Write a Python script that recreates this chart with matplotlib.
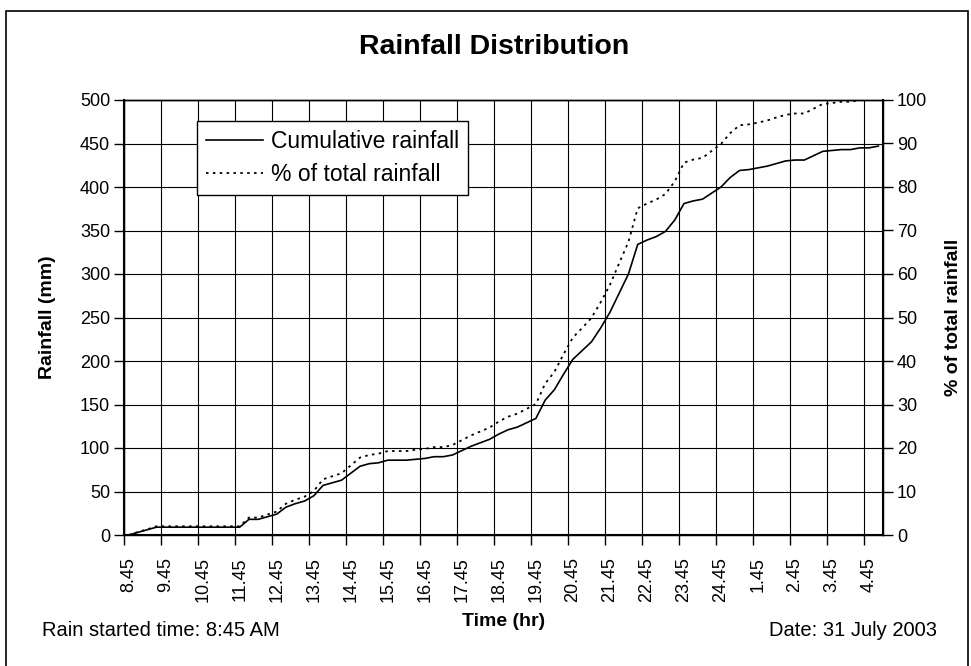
import numpy as np
import matplotlib
matplotlib.use('Agg')
import matplotlib.pyplot as plt
import matplotlib.ticker as ticker
from matplotlib.patches import Rectangle

plt.rc('font', family=['Liberation Sans', 'DejaVu Sans'])

# ------------- data (15 min steps from 8:45) -------------
cum_rain = [0, 3, 6, 9, 9, 9, 9, 9, 9, 9, 9, 9, 9, 18, 18, 21, 24, 32, 36, 39,
            45, 57, 60, 63, 71, 79, 82, 83, 86, 86, 86, 87, 88, 90, 90, 92, 97, 102, 106, 110,
            116, 121, 124, 129, 134, 155, 167, 185, 202, 212, 222, 238, 256, 278, 300, 334, 339, 343, 349, 362,
            381, 384, 386, 393, 400, 411, 419, 420, 422, 424, 427, 430, 431, 431, 436, 441, 442, 443, 443, 445,
            445, 447]

pct_rain = [0, 0.7, 1.3, 2.0, 2.0, 2.0, 2.0, 2.0, 2.0, 2.0, 2.0, 2.0, 2.0, 4.0, 4.0, 4.7, 5.4, 7.2, 8.1, 8.8,
            10.1, 12.8, 13.5, 14.2, 16.0, 17.8, 18.4, 18.7, 19.3, 19.3, 19.3, 19.6, 19.8, 20.2, 20.2, 20.7, 21.8, 22.9, 23.8, 24.7,
            26.1, 27.2, 27.9, 29.0, 30.1, 34.8, 37.5, 41.6, 45.4, 47.6, 49.9, 53.5, 57.5, 62.5, 67.4, 75.1, 76.2, 77.1, 78.4, 81.3,
            85.6, 86.3, 86.7, 88.3, 89.9, 92.4, 94.2, 94.4, 94.8, 95.3, 96.0, 96.6, 96.9, 96.9, 98.0, 99.1, 99.3, 99.6, 99.6, 100.0]

time_labels = ['8.45', '9.45', '10.45', '11.45', '12.45', '13.45', '14.45', '15.45',
               '16.45', '17.45', '18.45', '19.45', '20.45', '21.45', '22.45', '23.45',
               '24.45', '1.45', '2.45', '3.45', '4.45']

n_cat = len(cum_rain)
x_cum = np.arange(len(cum_rain)) + 0.5
x_pct = np.arange(len(pct_rain)) + 0.5

fig = plt.figure(figsize=(9.71, 6.66), dpi=100)
ax = fig.add_axes([124/971, 131/666, 759/971, 435/666])
ax2 = ax.twinx()

l1, = ax.plot(x_cum, cum_rain, color='black', linewidth=1.2, label='Cumulative rainfall')
l2, = ax2.plot(x_pct, pct_rain, color='black', linewidth=1.3, linestyle=(0, (1.4, 2.4)),
               label='% of total rainfall')

ax.set_xlim(0, n_cat)
ax.set_ylim(0, 500)
ax2.set_ylim(0, 100)

# grid at every 4th category boundary, labels centred on the category
ax.xaxis.set_major_locator(ticker.FixedLocator(np.arange(0, n_cat, 4)))
ax.xaxis.set_major_formatter(ticker.NullFormatter())
ax.xaxis.set_minor_locator(ticker.FixedLocator(np.arange(0, n_cat, 4) + 0.5))
ax.xaxis.set_minor_formatter(ticker.FixedFormatter(time_labels))
ax.tick_params(axis='x', which='minor', length=0, labelsize=13, labelrotation=90, pad=16)
ax.tick_params(axis='x', which='major', length=7, width=1, direction='out')

ax.yaxis.set_major_locator(ticker.MultipleLocator(50))
ax.tick_params(axis='y', which='major', length=7, width=1, labelsize=13, pad=3)
ax2.yaxis.set_major_locator(ticker.MultipleLocator(10))
ax2.tick_params(axis='y', which='major', length=7, width=1, labelsize=13, pad=3)

ax.grid(True, which='major', color='black', linewidth=0.8)
for sp in list(ax.spines.values()) + list(ax2.spines.values()):
    sp.set_linewidth(1.0)
    sp.set_color('black')
ax.spines['left'].set_linewidth(1.5)
ax.spines['bottom'].set_linewidth(1.5)
ax2.spines['right'].set_linewidth(1.5)

ax.set_ylabel('Rainfall (mm)', fontsize=14, fontweight='bold', labelpad=17)
ax2.set_ylabel('% of total rainfall', fontsize=14, fontweight='bold', labelpad=13)
ax.set_xlabel('Time (hr)', fontsize=14, fontweight='bold', labelpad=8)

leg = ax2.legend(handles=[l1, l2], loc='upper left', bbox_to_anchor=(0.096, 0.952),
                 borderaxespad=0, fontsize=16.5, fancybox=False, framealpha=1,
                 handlelength=2.5, handletextpad=0.35, labelspacing=0.45, borderpad=0.38)
leg.get_frame().set_edgecolor('black')
leg.get_frame().set_linewidth(1.0)

fig.text(494/971, 1 - 47/666, 'Rainfall Distribution', fontsize=20.5, fontweight='bold',
         ha='center', va='center')
fig.text(42/971, 1 - 631/666, 'Rain started time: 8:45 AM', fontsize=14.5, ha='left', va='center')
fig.text(937/971, 1 - 631/666, 'Date: 31 July 2003', fontsize=14.5, ha='right', va='center')

# outer chart border
fig.patches.append(Rectangle((6/971, -0.02), 962/971, (666 - 11)/666 + 0.02,
                             transform=fig.transFigure, fill=False, edgecolor='black',
                             linewidth=1.2))

plt.savefig('out.png', dpi=100)
